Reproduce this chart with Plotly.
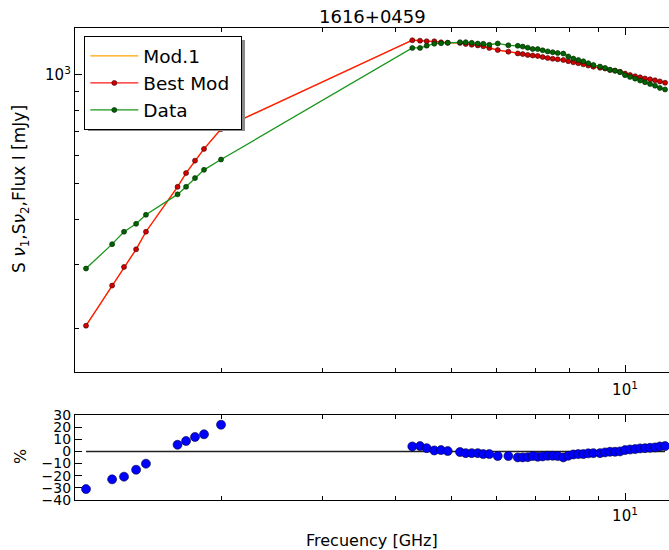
import plotly.graph_objects as go

# ---------------- data ----------------
freq_low = [1.168, 1.296, 1.359, 1.426, 1.483, 1.682, 1.740, 1.803, 1.869, 2.0]
freq_high = [4.285, 4.419, 4.538, 4.678, 4.805, 4.935, 5.182, 5.302, 5.430, 5.562,
             5.686, 5.824, 6.023, 6.283, 6.523, 6.653, 6.787, 6.923, 7.063, 7.204,
             7.349, 7.497, 7.648, 7.820, 7.977, 8.139, 8.302, 8.470, 8.640, 8.815,
             9.052, 9.235, 9.419, 9.609, 9.802, 10.00, 10.20, 10.41, 10.62, 10.83,
             11.05, 11.27, 11.49, 11.73]

model_low = [203, 262, 295, 330, 369, 491, 536, 580, 625, 709]
model_high = [1247, 1244, 1239, 1239, 1231, 1228, 1226, 1218, 1212, 1207,
              1200, 1188, 1172, 1160, 1147, 1142, 1136, 1132, 1129, 1121,
              1114, 1109, 1105, 1100, 1092, 1084, 1078, 1070, 1062, 1054,
              1047, 1042, 1032, 1028, 1021, 1009, 1000, 992, 985, 978,
              973, 967, 960, 952]

data_low = [292, 341, 369, 388, 411, 468, 491, 519, 547, 584]
data_high = [1188, 1188, 1205, 1220, 1224, 1227, 1232, 1232, 1227, 1221,
             1220, 1212, 1222, 1208, 1204, 1198, 1190, 1180, 1179, 1170,
             1162, 1156, 1150, 1146, 1125, 1110, 1100, 1091, 1078, 1066,
             1055, 1046, 1034, 1028, 1018, 999, 988, 977, 965, 955,
             944, 934, 921, 912]

resid_low = [-31, -23, -20.8, -15.1, -10.1, 5.5, 8.6, 11.9, 14.1, 22]
resid_high = [4.1, 4.4, 2.7, 0.8, 1.1, 0.3, -0.5, -1.4, -1.4, -1.4,
              -2.2, -2.2, -3.8, -3.8, -4.9, -4.9, -4.7, -3.8, -4.4, -4.1,
              -3.6, -3.6, -3.8, -4.9, -3.6, -2.5, -2.2, -2.2, -1.6, -1.4,
              -1.4, -0.8, -0.3, -0.3, 0.0, 1.1, 1.6, 1.9, 2.5, 2.7,
              3.0, 3.3, 4.1, 4.4]

x_major = [10]
x_major_text = ["10<sup>1</sup>"]
x_minor = [2, 3, 4, 5, 6, 7, 8, 9]
y_major = [1000]
y_major_text = ["10<sup>3</sup>"]
y_minor = [200, 300, 400, 500, 600, 700, 800, 900]
res_ticks = [-40, -30, -20, -10, 0, 10, 20, 30]

freq = freq_low + freq_high
model = model_low + model_high
data = data_low + data_high
resid = resid_low + resid_high

# ---------------- figure ----------------
FONT = "DejaVu Sans"
W, H = 669, 550
ML, MR, MT, MB = 75, 0, 28, 50
PW, PH = W - ML - MR, H - MT - MB

def px_x(p):
    return (p - ML) / PW

def px_y(p):
    return (H - MB - p) / PH

X_RANGE = [0.0484, 1.0761]

fig = go.Figure()

fig.add_trace(go.Scatter(x=freq, y=model, mode="lines", name="Mod.1",
                         legendgroup="a",
                         line=dict(color="#ffa500", width=1.3),
                         xaxis="x", yaxis="y"))
fig.add_trace(go.Scatter(x=freq, y=model, mode="lines+markers",
                         name="Best Mod\u00a0", legendgroup="b",
                         line=dict(color="#ff1a1a", width=1.3),
                         marker=dict(size=5, color="#d40000",
                                     line=dict(color="#330000", width=0.6)),
                         xaxis="x", yaxis="y"))
fig.add_trace(go.Scatter(x=freq, y=data, mode="lines+markers", name="Data",
                         legendgroup="c",
                         line=dict(color="#1a961a", width=1.3),
                         marker=dict(size=5, color="#006400",
                                     line=dict(color="#002000", width=0.6)),
                         xaxis="x", yaxis="y"))
fig.add_trace(go.Scatter(x=[min(freq), max(freq)], y=[0, 0], mode="lines",
                         line=dict(color="#222222", width=1.6),
                         showlegend=False, xaxis="x2", yaxis="y2"))
fig.add_trace(go.Scatter(x=freq, y=resid, mode="markers",
                         marker=dict(size=9, color="#0000ff",
                                     line=dict(color="#000033", width=0.6)),
                         showlegend=False, xaxis="x2", yaxis="y2"))

axis_common = dict(showline=True, linecolor="black", linewidth=1.3,
                   ticks="inside", tickcolor="black", ticklen=7, tickwidth=1,
                   showgrid=False, zeroline=False)

up_bottom = px_y(372)
low_top = px_y(415)

fig.update_layout(
    width=W, height=H,
    margin=dict(l=ML, r=MR, t=MT, b=MB, autoexpand=False),
    paper_bgcolor="white", plot_bgcolor="white",
    font=dict(family=FONT, color="black"),
    xaxis=dict(type="log", range=X_RANGE, domain=[0, 1], anchor="y",
               mirror="ticks", tickvals=x_major, ticktext=x_major_text,
               ticklabelstandoff=4,
               tickfont=dict(family=FONT, size=15, color="black"),
               minor=dict(tickvals=x_minor, ticks="inside", ticklen=4,
                          tickcolor="black", showgrid=False),
               **axis_common),
    yaxis=dict(type="log", range=[2.1796, 3.1298], domain=[up_bottom, 1],
               anchor="x", tickvals=y_major, ticktext=y_major_text,
               tickfont=dict(family=FONT, size=15, color="black"),
               minor=dict(tickvals=y_minor, ticks="inside", ticklen=4,
                          tickcolor="black", showgrid=False),
               **axis_common),
    xaxis2=dict(type="log", range=X_RANGE, domain=[0, 1], anchor="y2",
                mirror="ticks", tickvals=x_major, ticktext=x_major_text,
                ticklabelstandoff=2,
                tickfont=dict(family=FONT, size=15, color="black"),
                minor=dict(tickvals=x_minor, ticks="inside", ticklen=4,
                           tickcolor="black", showgrid=False),
                **axis_common),
    yaxis2=dict(range=[-40, 30], domain=[0, low_top], anchor="x2",
                tickvals=res_ticks,
                tickfont=dict(family=FONT, size=14, color="black"),
                **axis_common),
    showlegend=True,
    legend=dict(x=px_x(84), y=px_y(36), xanchor="left", yanchor="top",
                bgcolor="white", bordercolor="black", borderwidth=1.3,
                font=dict(family=FONT, size=18.5, color="black"),
                itemwidth=48, tracegroupgap=0),
)

# legend drop shadow
fig.add_shape(type="rect", xref="paper", yref="paper",
              x0=px_x(88), x1=px_x(245), y0=px_y(131), y1=px_y(40),
              fillcolor="#8a8a8a", line=dict(width=0), layer="above")

fig.add_annotation(text="1616+0459", xref="paper", yref="paper",
                   x=0.5, y=px_y(16), xanchor="center", yanchor="middle",
                   showarrow=False, font=dict(family=FONT, size=18))
fig.add_annotation(text="Frecuency [GHz]", xref="paper", yref="paper",
                   x=0.5, y=px_y(540), xanchor="center", yanchor="middle",
                   showarrow=False, font=dict(family=FONT, size=16))
fig.add_annotation(text="S <i>ν</i><sub>1</sub>,S<i>ν</i><sub>2</sub>,Flux I [mJy]",
                   xref="paper", yref="paper", textangle=-90,
                   x=px_x(20), y=px_y(189), xanchor="center", yanchor="middle",
                   showarrow=False, font=dict(family=FONT, size=17))
fig.add_annotation(text="%", xref="paper", yref="paper", textangle=-90,
                   x=px_x(20), y=px_y(457), xanchor="center", yanchor="middle",
                   showarrow=False, font=dict(family=FONT, size=16))

fig.write_html("out.html",
               config={"displayModeBar": False},
               post_script="document.body.style.margin='0';"
                           "document.body.style.overflow='hidden';")
